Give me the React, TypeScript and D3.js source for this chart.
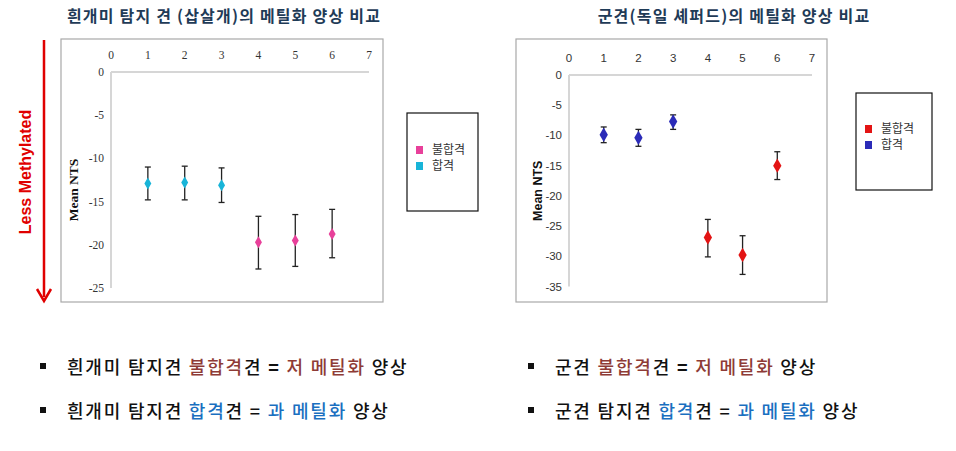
import React from 'react';
import { scaleLinear, symbol, symbolDiamond } from 'd3';

// x ticks shared by both panels
const xTicks = [0, 1, 2, 3, 4, 5, 6, 7];
const samples = [1, 2, 3, 4, 5, 6];

// 흰개미 탐지 견 (삽살개)
const leftGroups = ['합격', '합격', '합격', '불합격', '불합격', '불합격'];
const leftMeans = [-12.9, -12.8, -13.1, -19.7, -19.5, -18.75];
const leftUpper = [-11.0, -10.9, -11.1, -16.7, -16.5, -15.9];
const leftLower = [-14.8, -14.8, -15.1, -22.8, -22.5, -21.5];
const leftYTicks = [0, -5, -10, -15, -20, -25];

// 군견 (독일 셰퍼드)
const rightGroups = ['합격', '합격', '합격', '불합격', '불합격', '불합격'];
const rightMeans = [-9.9, -10.4, -7.7, -26.9, -29.8, -15.0];
const rightUpper = [-8.6, -9.0, -6.6, -23.9, -26.6, -12.7];
const rightLower = [-11.2, -11.8, -9.0, -30.1, -33.0, -17.3];
const rightYTicks = [0, -5, -10, -15, -20, -25, -30, -35];

const legendLabels = ['불합격', '합격'];

const KR = '"Noto Sans CJK KR", sans-serif';

function Panel({ box, x0, x1, y0, y1, yMin, font, fontSize, titleSize, groups, means, upper, lower, yTicks, colors, markSize, legend, titleX }) {
  const x = scaleLinear().domain([0, 7]).range([x0, x1]);
  const y = scaleLinear().domain([0, yMin]).range([y0, y1]);
  const diamond = symbol().type(symbolDiamond).size(markSize)();
  return (
    <g>
      <rect x={box[0]} y={box[1]} width={box[2]} height={box[3]} fill="#fff" stroke="#a8a8a8" strokeWidth={1.2} />
      {/* axes */}
      <line x1={x0} x2={x1} y1={y0} y2={y0} stroke="#d6d6d6" strokeWidth={2} />
      <line x1={x0} x2={x0} y1={y0} y2={y1} stroke="#d6d6d6" strokeWidth={2} />
      {xTicks.map((t) => (
        <text key={'x' + t} x={x(t)} y={y0 - 13} textAnchor="middle" fontFamily={font} fontSize={fontSize} fill="#333">{t}</text>
      ))}
      {yTicks.map((t) => (
        <text key={'y' + t} x={x0 - 7} y={y(t) + 4} textAnchor="end" fontFamily={font} fontSize={fontSize} fill="#333">{t}</text>
      ))}
      <text transform={`translate(${titleX},${(y0 + y1) / 2 + 10}) rotate(-90)`} textAnchor="middle" fontFamily={font} fontWeight="bold" fontSize={titleSize} fill="#111">Mean NTS</text>
      {/* error bars + markers */}
      {samples.map((s, i) => (
        <g key={s}>
          <line x1={x(s)} x2={x(s)} y1={y(upper[i])} y2={y(lower[i])} stroke="#222" strokeWidth={1.3} />
          <line x1={x(s) - 3} x2={x(s) + 3} y1={y(upper[i])} y2={y(upper[i])} stroke="#222" strokeWidth={1.3} />
          <line x1={x(s) - 3} x2={x(s) + 3} y1={y(lower[i])} y2={y(lower[i])} stroke="#222" strokeWidth={1.3} />
          <path d={diamond} transform={`translate(${x(s)},${y(means[i])})`} fill={colors[groups[i]]} />
        </g>
      ))}
      {/* legend */}
      <rect x={legend[0]} y={legend[1]} width={legend[2]} height={legend[3]} fill="#fff" stroke="#111" strokeWidth={1.2} />
      {legendLabels.map((l, i) => (
        <g key={l}>
          <rect x={legend[0] + 9} y={legend[4] + i * 16 - 4} width={7} height={8} fill={colors[l]} />
          <text x={legend[0] + 25} y={legend[4] + i * 16 + 4} fontFamily={KR} fontSize={12} fill="#333">{l}</text>
        </g>
      ))}
    </g>
  );
}

function Bullet({ x, y, parts }) {
  return (
    <g>
      <rect x={x} y={y - 4} width={6} height={6} fill="#111" />
      <text x={x + 27} y={y + 7} fontFamily={KR} fontSize={18} letterSpacing={1.8} fontWeight={500} fill="#111">
        {parts.map((p, i) => (
          <tspan key={i} fill={p[1]} fontWeight={p[2] ? 'bold' : 500}>{p[0]}</tspan>
        ))}
      </text>
    </g>
  );
}

const RED = '#8e3b36';
const BLUE = '#1a6fc0';

export default function App() {
  return (
    <svg width={956} height={451} style={{ position: 'absolute', left: 0, top: 0, background: '#fff' }}>
      <text x={224} y={22} textAnchor="middle" fontFamily={KR} fontWeight="bold" fontSize={16} letterSpacing={1.2} fill="#1f3b57">흰개미 탐지 견 (삽살개)의 메틸화 양상 비교</text>
      <text x={734} y={22} textAnchor="middle" fontFamily={KR} fontWeight="bold" fontSize={16} letterSpacing={1.2} fill="#1f3b57">군견(독일 셰퍼드)의 메틸화 양상 비교</text>

      {/* red arrow */}
      <line x1={44} x2={44} y1={40} y2={297} stroke="#e00000" strokeWidth={2.5} />
      <path d="M37,289 L44,301 L51,289" fill="none" stroke="#e00000" strokeWidth={2.5} />
      <text transform="translate(31,172) rotate(-90)" textAnchor="middle" fontFamily="Liberation Sans, Arial, sans-serif" fontWeight="bold" fontSize={16} fill="#e00000">Less Methylated</text>

      <Panel
        box={[61, 39, 322, 263]} x0={111} x1={369} y0={72} y1={288} yMin={-25}
        font="Liberation Serif, Times New Roman, serif" fontSize={11.5} titleSize={13.5}
        groups={leftGroups} means={leftMeans} upper={leftUpper} lower={leftLower} yTicks={leftYTicks}
        colors={{ '불합격': '#e8409a', '합격': '#18b4d8' }} markSize={42}
        legend={[407, 113, 71, 98, 150]} titleX={78}
      />
      <Panel
        box={[516, 39, 311, 263]} x0={569} x1={812} y0={75} y1={286.5} yMin={-35}
        font="Liberation Sans, Arial, sans-serif" fontSize={11.5} titleSize={12.5}
        groups={rightGroups} means={rightMeans} upper={rightUpper} lower={rightLower} yTicks={rightYTicks}
        colors={{ '불합격': '#e31414', '합격': '#2b2bb8' }} markSize={60}
        legend={[856, 93, 76, 97, 129]} titleX={542}
      />

      <Bullet x={40} y={367} parts={[['흰개미 탐지견 ', '#111'], ['불합격', RED], ['견 ', '#111'], ['= ', '#111', true], ['저 메틸화', RED], [' 양상', '#111']]} />
      <Bullet x={40} y={411} parts={[['흰개미 탐지견 ', '#111'], ['합격', BLUE], ['견', '#111'], [' = ', '#111'], ['과 메틸화', BLUE], [' 양상', '#111']]} />
      <Bullet x={528} y={367} parts={[['군견 ', '#111'], ['불합격', RED], ['견 ', '#111'], ['= ', '#111', true], ['저 메틸화', RED], [' 양상', '#111']]} />
      <Bullet x={528} y={411} parts={[['군견 탐지견 ', '#111'], ['합격', BLUE], ['견', '#111'], [' = ', '#111'], ['과 메틸화', BLUE], [' 양상', '#111']]} />
    </svg>
  );
}
